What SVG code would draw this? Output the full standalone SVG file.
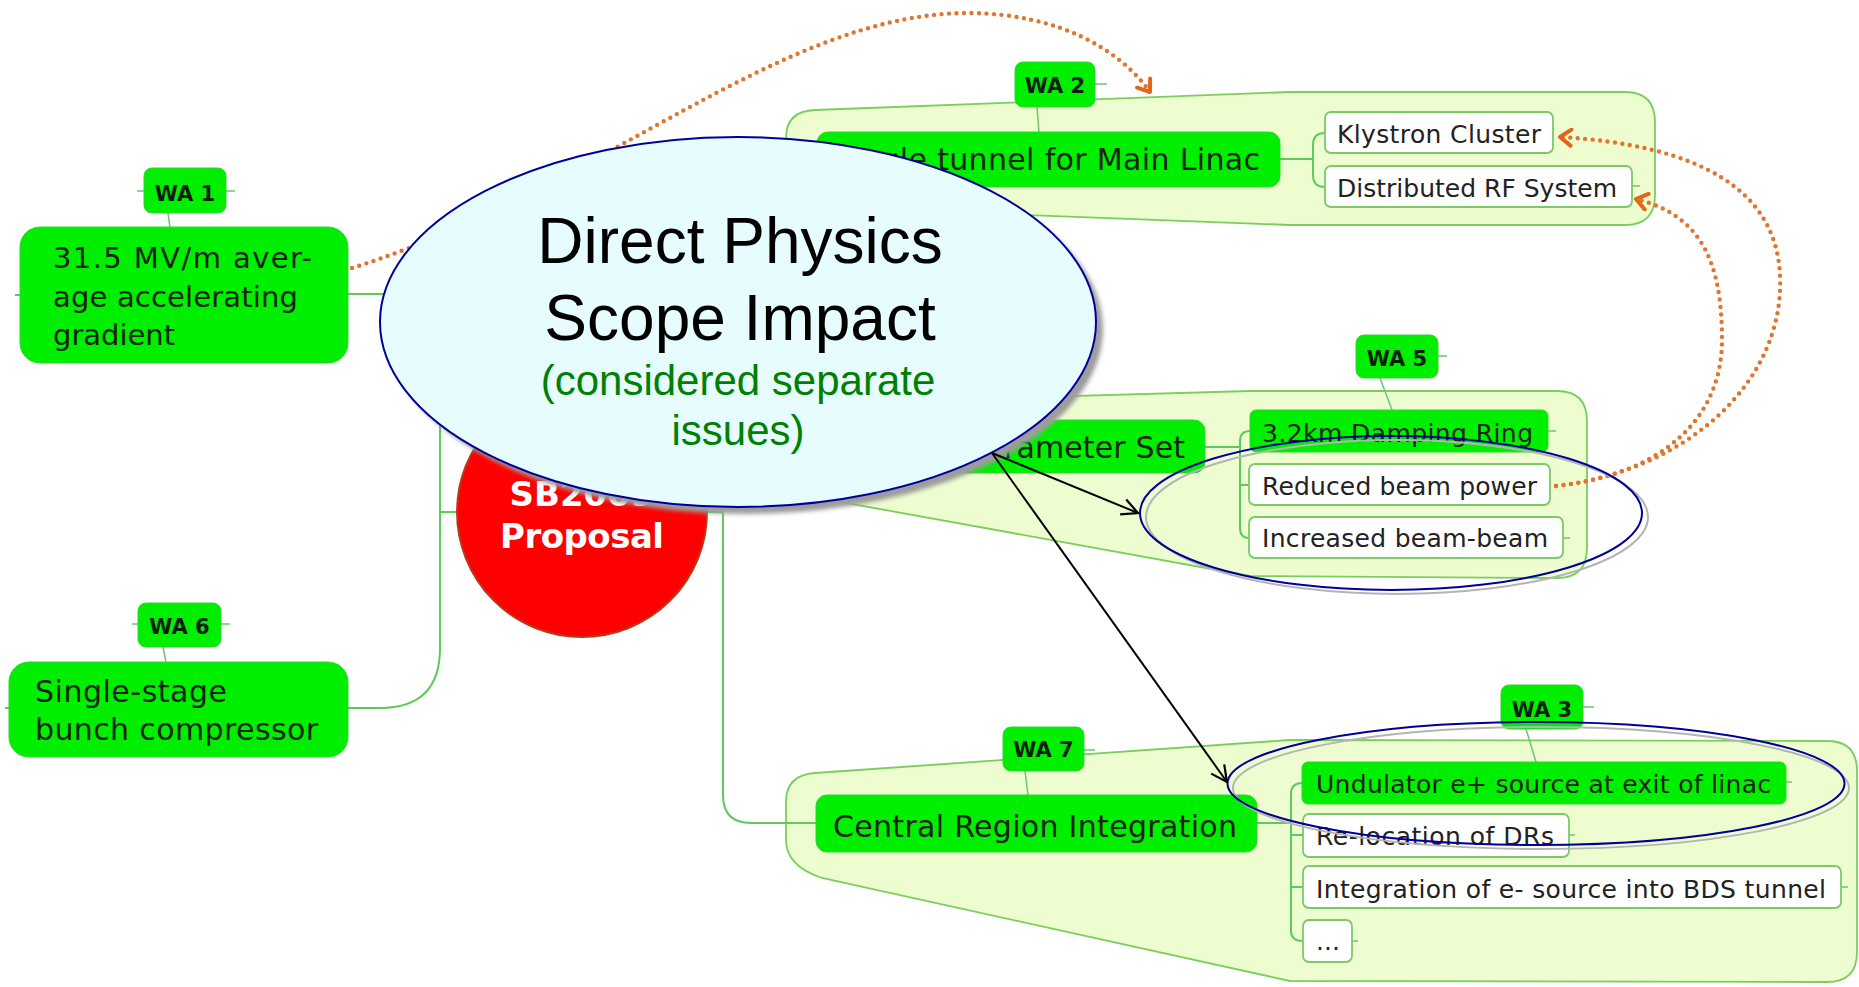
<svg xmlns="http://www.w3.org/2000/svg" width="1859" height="987" viewBox="0 0 1859 987">
<defs>
<style>
.grp{fill:#EEFDD0;stroke:#7ACF5C;stroke-width:1.8}
.node{fill:#00EE00;stroke:#33D433;stroke-width:1}
.box{fill:#FFFFFF;stroke:#7ACB68;stroke-width:1.8}
.gbox{fill:#00EE00;stroke:#33D433;stroke-width:1}
.t{font-family:"DejaVu Sans",sans-serif;fill:#122412}
.tw{font-family:"DejaVu Sans",sans-serif;fill:#222222}
.lt{font-family:"DejaVu Sans",sans-serif;font-weight:bold;font-size:21px;fill:#0E1E0E;text-anchor:middle}
.conn{fill:none;stroke:#5CCB5C;stroke-width:2}
.tick{fill:none;stroke:#6BC86B;stroke-width:1.5}
.dots{fill:none;stroke:#E0752D;stroke-width:4.4;stroke-dasharray:0 7.5;stroke-linecap:round}
.ring{fill:none;stroke:#000099;stroke-width:2}
.ringsh{fill:none;stroke:#B4B4B4;stroke-width:2}
.big{font-family:"Liberation Sans",Arial,sans-serif;text-anchor:middle}
</style>
<marker id="oa" viewBox="-14 -10 18 20" refX="0" refY="0" markerWidth="18" markerHeight="20" markerUnits="userSpaceOnUse" orient="auto">
<path d="M -11 -8 L 0 0 L -11 8" fill="none" stroke="#E0661A" stroke-width="4" stroke-dasharray="none" stroke-linecap="round" stroke-linejoin="round"/>
</marker>
<marker id="ba" viewBox="-18 -10 20 20" refX="0" refY="0" markerWidth="20" markerHeight="20" markerUnits="userSpaceOnUse" orient="auto">
<path d="M -16 -8 L 0 0 L -16 8" fill="none" stroke="#000000" stroke-width="2.2"/>
</marker>
<filter id="blur" x="-10%" y="-10%" width="120%" height="120%"><feGaussianBlur stdDeviation="2"/></filter>
</defs>
<rect x="0" y="0" width="1859" height="987" fill="#FFFFFF"/>

<!-- group backgrounds -->
<g id="group-wa2">
<path class="grp" d="M 815 110 L 1290 92 L 1625 92 Q 1655 92 1655 122 L 1655 195 Q 1655 225 1625 225 L 1290 225 L 815 207 Q 786 206 786 178 L 786 138 Q 786 111 815 110 Z"/>
</g>
<g id="group-wa5">
<path class="grp" d="M 860 402 L 1250 391 L 1557 391 Q 1587 391 1587 421 L 1587 548 Q 1587 578 1557 578 L 1250 576 L 830 500 Q 800 494 800 468 L 800 430 Q 800 403 830 402 Z"/>
</g>
<g id="group-wa7">
<path class="grp" d="M 815 773 L 1290 740 L 1827 741 Q 1857 741 1857 771 L 1857 952 Q 1857 982 1827 982 L 1290 981 L 822 878 Q 786 866 786 840 L 786 802 Q 786 775 815 773 Z"/>
</g>

<!-- connectors -->
<g id="connectors">
<path class="conn" d="M 348 294 H 410 Q 440 294 440 324 V 648 Q 440 708 380 708 H 348"/>
<path class="conn" d="M 440 512 H 458"/>
<path class="conn" d="M 706 512 H 723"/>
<path class="conn" d="M 817 160 H 753 Q 723 160 723 190 V 795 Q 723 823 751 823 H 816"/>
<path class="conn" d="M 723 447 H 875"/>
<path class="conn" d="M 15 295 H 20 M 5 708 H 9"/>
<path class="conn" d="M 1280 159 H 1313 M 1325 133 Q 1313 133 1313 145 V 175 Q 1313 187 1325 187"/>
<path class="conn" d="M 1205 447 H 1240 M 1250 431 Q 1240 431 1240 441 V 528 Q 1240 538 1249 538 M 1240 485 H 1249"/>
<path class="conn" d="M 1257 823 H 1291 M 1302 783 Q 1291 783 1291 794 V 931 Q 1291 941 1303 941 M 1291 835 H 1303 M 1291 887 H 1303"/>
<path class="tick" d="M 1632 186 H 1640 M 1548 431 H 1556 M 1563 538 H 1570 M 1786 782 H 1792 M 1569 835 H 1575 M 1841 887 H 1848 M 1352 941 H 1358"/>
<path class="tick" d="M 137 191 H 144 M 226 191 H 235 M 168 213 L 170 228"/>
<path class="tick" d="M 1095 84 H 1107 M 1037 107 L 1039 132"/>
<path class="tick" d="M 1438 356 H 1447 M 1380 378 L 1392 410"/>
<path class="tick" d="M 132 624 H 138 M 221 624 H 230 M 163 647 L 166 662"/>
<path class="tick" d="M 1084 750 H 1095 M 1025 771 L 1028 795"/>
<path class="tick" d="M 1583 707 H 1594 M 1526 729 L 1536 762"/>
</g>

<!-- central topic -->
<g id="central">
<circle cx="582" cy="512" r="125" fill="#FF0000" stroke="#B83A1A" stroke-width="2"/>
<text x="582" y="506" font-family="DejaVu Sans,sans-serif" font-weight="bold" font-size="34" fill="#FFFFFF" text-anchor="middle">SB2009</text>
<text x="582" y="548" font-family="DejaVu Sans,sans-serif" font-weight="bold" font-size="34" fill="#FFFFFF" text-anchor="middle" textLength="164">Proposal</text>
</g>

<!-- WA1 -->
<g id="wa1">
<rect class="node" x="20" y="227" width="328" height="136" rx="20"/>
<text class="t" font-size="29" x="53" y="268" textLength="259">31.5 MV/m aver-</text>
<text class="t" font-size="29" x="53" y="307" textLength="245">age accelerating</text>
<text class="t" font-size="29" x="53" y="345" textLength="122">gradient</text>
</g>
<g id="wa1-label">
<rect class="node" x="144" y="168" width="82" height="45" rx="8"/>
<text class="lt" x="185" y="201">WA 1</text>
</g>

<!-- WA6 -->
<g id="wa6">
<rect class="node" x="9" y="662" width="339" height="95" rx="20"/>
<text class="t" font-size="30" x="35" y="702" textLength="192">Single-stage</text>
<text class="t" font-size="30" x="35" y="740" textLength="283">bunch compressor</text>
</g>
<g id="wa6-label">
<rect class="node" x="138" y="603" width="83" height="44" rx="8"/>
<text class="lt" x="179.5" y="634">WA 6</text>
</g>

<!-- WA2 -->
<g id="wa2">
<rect class="node" x="817" y="132" width="463" height="55" rx="11"/>
<text class="t" font-size="30" x="833" y="170" textLength="427">Single tunnel for Main Linac</text>
</g>
<g id="wa2-label">
<rect class="node" x="1015" y="62" width="80" height="45" rx="8"/>
<text class="lt" x="1055" y="93">WA 2</text>
</g>
<g id="klystron">
<rect class="box" x="1325" y="112" width="228" height="41" rx="6"/>
<text class="tw" font-size="25" x="1337" y="143" textLength="204">Klystron Cluster</text>
</g>
<g id="drfs">
<rect class="box" x="1325" y="166" width="307" height="41" rx="6"/>
<text class="tw" font-size="25" x="1337" y="197" textLength="280">Distributed RF System</text>
</g>

<!-- WA5 -->
<g id="wa5">
<rect class="node" x="875" y="420" width="330" height="53" rx="11"/>
<text class="t" font-size="30" x="893" y="458" textLength="292">New Parameter Set</text>
</g>
<g id="damping">
<rect class="gbox" x="1250" y="410" width="298" height="42" rx="6"/>
<text class="t" font-size="25" x="1262" y="442" textLength="271">3.2km Damping Ring</text>
</g>
<g id="wa5-label">
<rect class="node" x="1356" y="335" width="82" height="43" rx="8"/>
<text class="lt" x="1397" y="366">WA 5</text>
</g>
<g id="reduced">
<rect class="box" x="1249" y="464" width="301" height="41" rx="6"/>
<text class="tw" font-size="25" x="1262" y="495" textLength="275">Reduced beam power</text>
</g>
<g id="increased">
<rect class="box" x="1249" y="517" width="314" height="41" rx="6"/>
<text class="tw" font-size="25" x="1262" y="547" textLength="286">Increased beam-beam</text>
</g>

<!-- WA7 -->
<g id="wa7">
<rect class="node" x="816" y="795" width="441" height="57" rx="11"/>
<text class="t" font-size="30" x="833" y="837" textLength="404">Central Region Integration</text>
</g>
<g id="wa7-label">
<rect class="node" x="1003" y="727" width="81" height="44" rx="8"/>
<text class="lt" x="1043.5" y="757">WA 7</text>
</g>
<g id="undulator">
<rect class="gbox" x="1302" y="762" width="484" height="42" rx="6"/>
<text class="t" font-size="25" x="1316" y="793" textLength="455">Undulator e+ source at exit of linac</text>
</g>
<g id="wa3-label">
<rect class="node" x="1501" y="685" width="82" height="44" rx="8"/>
<text class="lt" x="1542" y="717">WA 3</text>
</g>
<g id="relocation">
<rect class="box" x="1303" y="814" width="266" height="43" rx="6"/>
<text class="tw" font-size="25" x="1316" y="845" textLength="238">Re-location of DRs</text>
</g>
<g id="integration">
<rect class="box" x="1303" y="866" width="538" height="42" rx="6"/>
<text class="tw" font-size="25" x="1316" y="898" textLength="510">Integration of e- source into BDS tunnel</text>
</g>
<g id="more">
<rect class="box" x="1303" y="920" width="49" height="42" rx="6"/>
<text class="tw" font-size="25" x="1316" y="950">...</text>
</g>

<!-- orange dotted relationships -->
<g id="relations">
<path class="dots" d="M 352 268 C 600 190, 780 12, 970 13 C 1060 14, 1120 50, 1150 92" marker-end="url(#oa)"/>
<path class="dots" d="M 1556 486 C 1690 470, 1785 380, 1780 275 C 1776 190, 1700 145, 1560 137" marker-end="url(#oa)"/>
<path class="dots" d="M 1556 486 C 1660 475, 1722 420, 1722 340 C 1722 260, 1700 215, 1636 199" marker-end="url(#oa)"/>
</g>

<!-- callout -->
<g id="callout">
<ellipse cx="745" cy="329" rx="358" ry="185" fill="#9C9C9C" filter="url(#blur)"/>
<ellipse cx="738" cy="322" rx="358" ry="185" fill="#E6FCFF" stroke="#000099" stroke-width="2"/>
<text class="big" x="740" y="263" font-size="64" fill="#000000">Direct Physics</text>
<text class="big" x="740" y="340" font-size="64" fill="#000000">Scope Impact</text>
<text class="big" x="738" y="395" font-size="42" fill="#008000">(considered separate</text>
<text class="big" x="738" y="445" font-size="42" fill="#008000">issues)</text>
</g>

<g id="highlight-wa5">
<ellipse class="ringsh" cx="1397" cy="517" rx="251" ry="77"/>
<ellipse class="ring" cx="1391" cy="513" rx="251" ry="77"/>
</g>
<g id="highlight-wa3">
<ellipse class="ringsh" cx="1541" cy="788" rx="308" ry="61"/>
<ellipse class="ring" cx="1536" cy="783.5" rx="308.5" ry="61.5"/>
</g>

<g id="callout-arrows">
<path d="M 992 453 L 1138 513" fill="none" stroke="#000000" stroke-width="2" marker-end="url(#ba)"/>
<path d="M 992 453 L 1227 782" fill="none" stroke="#000000" stroke-width="2" marker-end="url(#ba)"/>
</g>
</svg>
